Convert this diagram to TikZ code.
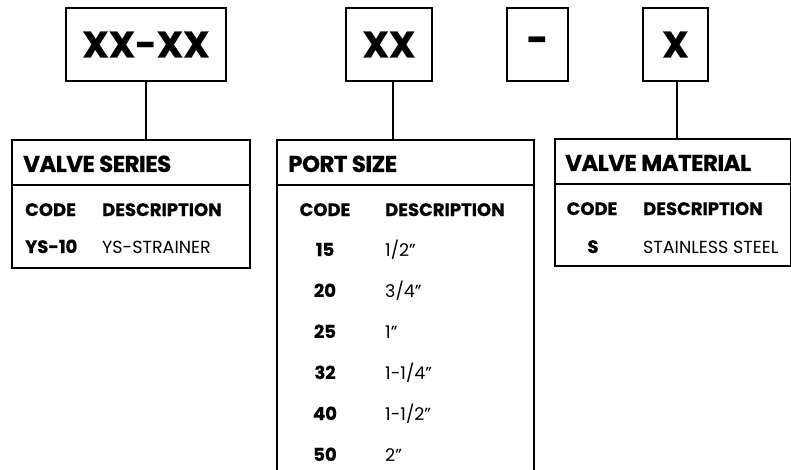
\documentclass[tikz,border=0pt]{standalone}
\usepackage{fontspec}
\setmainfont{Poppins}[BoldFeatures={FakeBold=0.6}]
\newfontfamily\headfont{Poppins}[LetterSpace=-2.5, BoldFeatures={FakeBold=0.6}]
\usetikzlibrary{positioning}
\begin{document}
\begin{tikzpicture}[x=1pt, y=-1pt,
    codebox/.style={draw, line width=1.7pt, inner sep=0pt, minimum height=73pt, font=\bfseries\fontsize{37}{37}\selectfont},
    tablebox/.style={draw, line width=1.7pt, inner sep=0pt, anchor=north west},
    link/.style={line width=1.7pt},
    head/.style={anchor=base west, inner sep=0pt, font=\headfont\bfseries\fontsize{23}{23}\selectfont},
    colhead/.style={anchor=base, inner sep=0pt, font=\bfseries\fontsize{18}{18}\selectfont},
    entry/.style={anchor=base west, inner sep=0pt, font=\fontsize{17.5}{17.5}\selectfont}]
    \useasboundingbox (0,0) rectangle (791,470);
    % code boxes
    \node[codebox, minimum width=160pt] (seriescode) at (146,44.5) {XX-XX};
    \node[codebox, minimum width=86pt] (sizecode) at (389,44.5) {XX};
    \node[codebox, minimum width=61pt] (dash) at (537.5,44.5) {-};
    \node[codebox, minimum width=65pt] (matcode) at (675.5,44.5) {X};
    % tables
    \node[tablebox, minimum width=238pt, minimum height=128pt] (series) at (11,139) {};
    \node[tablebox, minimum width=257pt, minimum height=345pt] (size) at (276,139) {};
    \node[tablebox, minimum width=236pt, minimum height=127pt] (mat) at (554,138) {};
    \draw[link] (series.west |- 0,185) -- (series.east |- 0,185);
    \draw[link] (size.west |- 0,185) -- (size.east |- 0,185);
    \draw[link] (mat.west |- 0,184) -- (mat.east |- 0,184);
    % connectors
    \draw[link] (seriescode.south) -- (seriescode.south |- series.north);
    \draw[link] ([xshift=4pt]sizecode.south) -- ([xshift=4pt]sizecode.south |- size.north);
    \draw[link] ([xshift=1.5pt]matcode.south) -- ([xshift=1.5pt]matcode.south |- mat.north);
    % valve series
    \node[head] (serieshead) at (23,172) {VALVE SERIES};
    \node[colhead, anchor=base west] (seriescol) at (25,216) {CODE};
    \node[colhead, anchor=base west] (seriesdesc) at (102,216) {DESCRIPTION};
    \node[colhead, anchor=base west] (seriesys) at (25,253) {YS-10};
    \node[entry] (seriesstr) at (102,253) {YS-STRAINER};
    % port size
    \node[head] (sizehead) at (288,172) {PORT SIZE};
    \node[colhead] (sizecol) at (325,216) {CODE};
    \node[colhead, anchor=base west] (sizedesc) at (385,216) {DESCRIPTION};
    \foreach \code/\inch [count=\i] in {15/{1/2”}, 20/{3/4”}, 25/{1”}, 32/{1-1/4”}, 40/{1-1/2”}, 50/{2”}} {
        \node[colhead] (size code \i) at (325,215+41*\i) {\code};
        \node[entry] (size desc \i) at (385,215+41*\i) {\inch};
    }
    % valve material
    \node[head] (mathead) at (565,171) {VALVE MATERIAL};
    \node[colhead] (matcol) at (592,215) {CODE};
    \node[colhead, anchor=base west] (matdesc) at (643,215) {DESCRIPTION};
    \node[colhead] (mats) at (593,253) {S};
    \node[entry] (matsteel) at (643,253) {STAINLESS STEEL};
\end{tikzpicture}
\end{document}
